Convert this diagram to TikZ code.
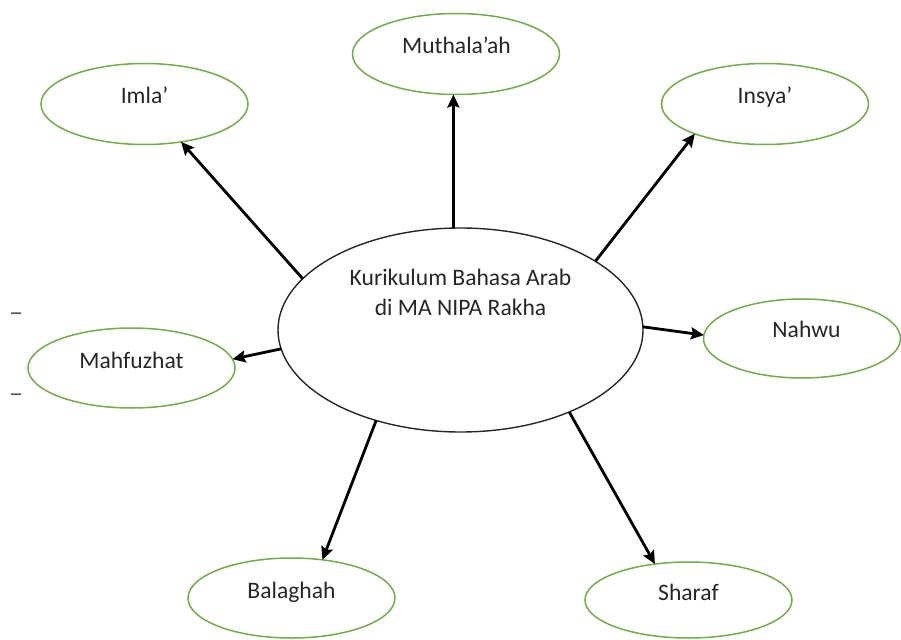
\documentclass[tikz,border=0pt]{standalone}
\usepackage{fontspec}
\setmainfont{Carlito}
\usetikzlibrary{shapes.geometric,arrows.meta}
\definecolor{leafgreen}{RGB}{112,173,71}
\definecolor{txtgray}{RGB}{38,38,38}
\begin{document}
\begin{tikzpicture}[x=1pt,y=-1pt,
  hub/.style={ellipse,draw=black!85,line width=1.4pt,minimum width=365pt,minimum height=204pt,inner sep=0pt,outer sep=0pt},
  leaf/.style={ellipse,draw=leafgreen,line width=1.5pt,minimum width=207pt,minimum height=81pt,inner sep=0pt,outer sep=0pt},
  lbl/.style={font=\fontsize{23.6}{30}\selectfont,text=txtgray,inner sep=0pt,align=center},
  dashmark/.style={font=\fontsize{28}{30}\selectfont,text=black!65,inner sep=0pt},
  link/.style={line width=2.8pt,black,-{Stealth[length=13pt,width=12pt,inset=2pt]}}
]
\useasboundingbox (0,0) rectangle (901,639);

% nodes
\node[hub] (c) at (460.5,330) {};
\node[leaf] (imla) at (144.5,104) {};
\node[leaf] (muth) at (456,54) {};
\node[leaf] (insya) at (765,104) {};
\node[leaf,minimum width=197pt,minimum height=79pt] (nahwu) at (802,338.5) {};
\node[leaf,minimum height=80pt] (mahf) at (131.5,368) {};
\node[leaf,minimum height=80pt] (bal) at (291.5,598) {};
\node[leaf,minimum height=76pt] (sharaf) at (688.5,600) {};

% texts
\node[lbl,anchor=base] (c-t1) at ([yshift=45pt]c.center) {Kurikulum Bahasa Arab};
\node[lbl,anchor=base] (c-t2) at ([yshift=15pt]c.center) {di MA NIPA Rakha};
\node[lbl,anchor=base] (imla-t) at (imla.center) {Imla’};
\node[lbl,anchor=base] (muth-t) at ([xshift=0.5pt]muth.center) {Muthala’ah};
\node[lbl,anchor=base] (insya-t) at (insya.center) {Insya’};
\node[lbl,anchor=base] (nahwu-t) at ([xshift=4.5pt,yshift=1.5pt]nahwu.center) {Nahwu};
\node[lbl,anchor=base] (mahf-t) at (mahf.center) {Mahfuzhat};
\node[lbl,anchor=base] (bal-t) at (bal.center) {Balaghah};
\node[lbl,anchor=base] (sharaf-t) at (sharaf.center) {Sharaf};

% stray dashes
\node[dashmark] (d1) at (16,317.5) {–};
\node[dashmark] (d2) at (16,398.5) {–};

% connectors
\draw[link] (c.162.8) -- (imla.314.6);
\draw[link] (c.94.8) -- (c.94.8 |- muth.south);
\draw[link] (c.27.6) -- (insya.203.2);
\draw[link] (c.1.6) -- (nahwu.178.2);
\draw[link] (c.186.6) -- (mahf.5.6);
\draw[link] (c.227.8) -- (bal.51.8);
\draw[link] (c.323.2) -- (sharaf.133.1);
\end{tikzpicture}
\end{document}
